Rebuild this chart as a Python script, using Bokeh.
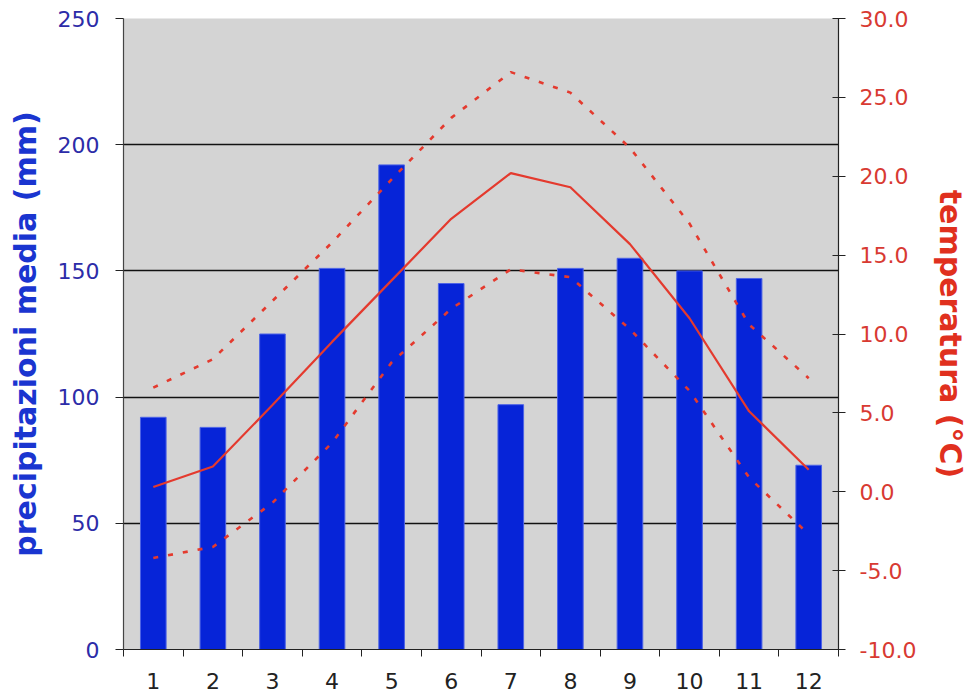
from bokeh.plotting import figure
from bokeh.models import Range1d, LinearAxis, FixedTicker, PrintfTickFormatter
from bokeh.embed import file_html
from bokeh.resources import INLINE

months = [1, 2, 3, 4, 5, 6, 7, 8, 9, 10, 11, 12]
month_labels = ["1", "2", "3", "4", "5", "6", "7", "8", "9", "10", "11", "12"]
precip = [92, 88, 125, 151, 192, 145, 97, 151, 155, 150, 147, 73]
t_mean = [0.3, 1.6, 5.5, 9.5, 13.4, 17.3, 20.2, 19.3, 15.7, 11.0, 5.1, 1.4]
t_max = [6.6, 8.4, 12.1, 15.8, 19.8, 23.7, 26.6, 25.3, 21.8, 17.0, 10.6, 7.2]
t_min = [-4.2, -3.5, -0.7, 3.1, 8.2, 11.6, 14.1, 13.6, 10.3, 6.4, 0.9, -2.7]
precip_ticks = [0, 50, 100, 150, 200, 250]
temp_ticks = [-10, -5, 0, 5, 10, 15, 20, 25, 30]

FONT = "DejaVu Sans"
BLUE_TXT = "#2c2ca8"
RED_TXT = "#d83a32"
RED = "#e43a2e"

p = figure(width=973, height=697, output_backend="svg", toolbar_location=None,
           x_range=Range1d(0.5, 12.5), y_range=Range1d(0, 250),
           min_border_left=123, min_border_right=135, min_border_top=18,
           min_border_bottom=48, y_axis_location=None, x_axis_location=None)
p.background_fill_color = "#d4d4d4"
p.border_fill_color = "white"
p.outline_line_color = None

p.extra_y_ranges = {"temp": Range1d(-10, 30)}

# bottom axis
xa = LinearAxis(ticker=FixedTicker(ticks=months, minor_ticks=[m - 0.5 for m in months] + [12.5]),
                major_label_overrides={m: l for m, l in zip(months, month_labels)})
xa.major_tick_out = 0
xa.major_tick_in = 0
xa.minor_tick_out = 7
xa.minor_tick_in = 0
xa.minor_tick_line_color = "#222222"
xa.axis_line_color = "#222222"
xa.axis_line_width = 1.2
xa.major_label_text_font = FONT
xa.major_label_text_font_size = "22px"
xa.major_label_text_color = "#222222"
xa.major_label_standoff = 16
p.add_layout(xa, "below")

# left axis
ya = LinearAxis(ticker=FixedTicker(ticks=precip_ticks), axis_label="precipitazioni media (mm)")
ya.major_tick_out = 8
ya.major_tick_in = 0
ya.minor_tick_out = 0
ya.minor_tick_in = 0
ya.major_tick_line_color = "#222222"
ya.axis_line_color = "#444444"
ya.axis_line_width = 1.2
ya.major_label_text_font = FONT
ya.major_label_text_font_size = "22px"
ya.major_label_text_color = BLUE_TXT
ya.major_label_standoff = 16
ya.axis_label_text_font = FONT
ya.axis_label_text_font_style = "bold"
ya.axis_label_text_font_size = "30px"
ya.axis_label_text_color = "#1a35d0"
ya.axis_label_standoff = 12
p.add_layout(ya, "left")

# right axis
ra = LinearAxis(y_range_name="temp", ticker=FixedTicker(ticks=temp_ticks),
                formatter=PrintfTickFormatter(format="%.1f"), axis_label="temperatura (°C)")
ra.major_tick_out = 7
ra.major_tick_in = 6
ra.minor_tick_out = 0
ra.minor_tick_in = 0
ra.major_tick_line_color = "#222222"
ra.axis_line_color = "#222222"
ra.axis_line_width = 1.2
ra.major_label_text_font = FONT
ra.major_label_text_font_size = "22px"
ra.major_label_text_color = RED_TXT
ra.major_label_standoff = 14
ra.axis_label_text_font = FONT
ra.axis_label_text_font_style = "bold"
ra.axis_label_text_font_size = "30px"
ra.axis_label_text_color = "#e0301e"
ra.axis_label_standoff = 14
p.add_layout(ra, "right")

p.xgrid.visible = False
p.ygrid.ticker = FixedTicker(ticks=[50, 100, 150, 200])
p.ygrid.grid_line_color = "#111111"
p.ygrid.grid_line_width = 1.3

p.vbar(x=months, top=precip, width=0.43, bottom=0,
       fill_color="#0624d8", line_color="#4d63e6", line_width=1)

p.line(months, t_max, y_range_name="temp", line_color=RED, line_width=2.6, line_dash="5 10")
p.line(months, t_min, y_range_name="temp", line_color=RED, line_width=2.6, line_dash="5 10")
p.line(months, t_mean, y_range_name="temp", line_color=RED, line_width=2.2)

open("out.html", "w").write(file_html(p, INLINE))
